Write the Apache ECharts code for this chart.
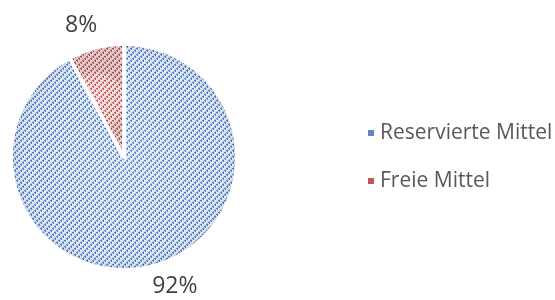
<!DOCTYPE html>
<html>
<head>
<meta charset="utf-8">
<script src="https://cdn.jsdelivr.net/npm/echarts@6/dist/echarts.min.js"></script>
<style>
html,body{margin:0;padding:0;background:#fff;}
#chart{width:555px;height:300px;}
</style>
</head>
<body>
<div id="chart"></div>
<script>
const categories=['Reservierte Mittel','Freie Mittel'];
const values=[92,8];
const labels=['92%','8%'];

const fillColors=[
    {bg:'#e1e9f6',dot:'#4a7cc3',mid:'#94b1dc',legend:'#5f86c0'},
    {bg:'#f6dede',dot:'#c0504d',mid:'#de9e9c',legend:'#b85c5a'}
];
// nudges for the data labels, excel puts them a bit off the bisector
const labelShift=[[11,-6],[-3,4]];

// hatch tile: dotted diagonal lines, like the office pattern fill
function makePattern(c){
    var cv=document.createElement('canvas');
    cv.width=6;cv.height=6;
    var ctx=cv.getContext('2d');
    ctx.fillStyle=c.bg;
    ctx.fillRect(0,0,6,6);
    ctx.fillStyle=c.mid;
    [[1,3],[3,1],[5,5]].forEach(function(p){ctx.fillRect(p[0],p[1],1,1);});
    ctx.fillStyle=c.dot;
    [[0,4],[2,2],[4,0]].forEach(function(p){ctx.fillRect(p[0],p[1],1,1);ctx.fillRect(p[0]+1,p[1]+1,1,1);});
    [[1,4],[3,2],[5,0]].forEach(function(p){ctx.fillRect(p[0],p[1],1,1);});
    return {image:cv,repeat:'repeat'};
}

var myChart=echarts.init(document.getElementById('chart'),null,{renderer:'canvas'});
var pieData=categories.map(function(name,i){
    return {
        name:name,
        value:values[i],
        itemStyle:{color:makePattern(fillColors[i])},
        label:{formatter:labels[i]}
    };
});
var shadeData=categories.map(function(name,i){
    return {name:name,value:values[i]};
});
var legendData=categories.map(function(name,i){
    return {name:name,itemStyle:{color:fillColors[i].legend}};
});

var option={
    backgroundColor:'#fff',
    animation:false,
    legend:{
        orient:'vertical',
        left:361,
        top:117,
        itemWidth:8,
        itemHeight:8,
        itemGap:26,
        icon:'rect',
        textStyle:{
            fontFamily:'Open Sans',
            fontSize:21,
            lineHeight:22,
            color:'#595959'
        },
        data:legendData
    },
    series:[{
        type:'pie',
        center:[124,157],
        radius:[0,113],
        startAngle:90,
        clockwise:true,
        itemStyle:{
            borderColor:'#fff',
            borderWidth:3.5
        },
        label:{
            show:true,
            position:'outside',
            fontFamily:'Open Sans',
            fontSize:23,
            color:'#404040'
        },
        labelLine:{
            show:false,
            length:27,
            length2:0
        },
        labelLayout:function(p){
            return {align:'center',dx:labelShift[p.dataIndex][0],dy:labelShift[p.dataIndex][1]};
        },
        emphasis:{disabled:true},
        data:pieData
    },{
        type:'pie',
        silent:true,
        center:[124,157],
        radius:[0,113],
        startAngle:90,
        clockwise:true,
        itemStyle:{
            borderColor:'#fff',
            borderWidth:3.5,
            color:{
                type:'radial',x:0.5,y:0.5,r:0.5,
                colorStops:[
                    {offset:0,color:'rgba(255,255,255,0.12)'},
                    {offset:0.8,color:'rgba(255,255,255,0)'},
                    {offset:1,color:'rgba(60,60,80,0.12)'}
                ]
            }
        },
        label:{show:false},
        labelLine:{show:false},
        data:shadeData
    }]
};
myChart.setOption(option);
</script>
</body>
</html>
